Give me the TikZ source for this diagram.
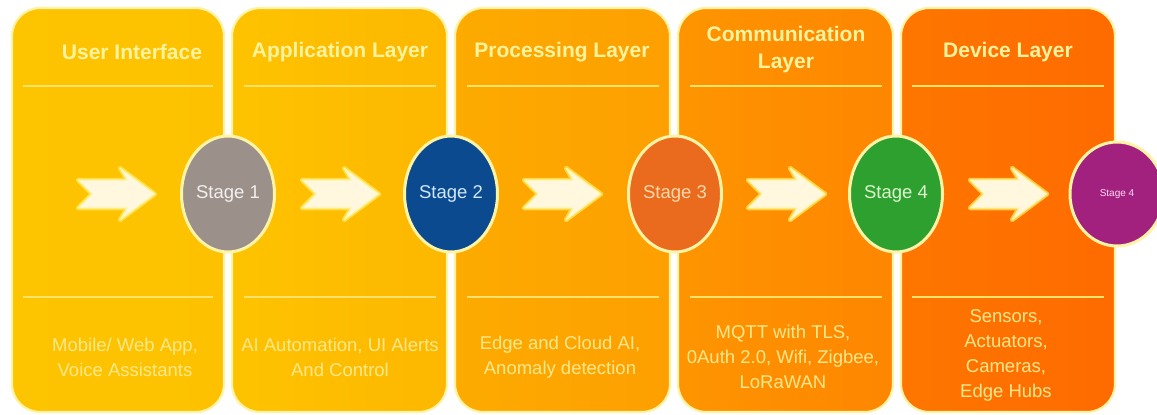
\documentclass[tikz,border=0pt]{standalone}
\usepackage{fontspec}
\setmainfont{Liberation Sans}
\usetikzlibrary{shapes.geometric}

% panel colours (left / right of each panel)
\definecolor{pa1}{HTML}{FDC400}\definecolor{pb1}{HTML}{FDC100}
\definecolor{pa2}{HTML}{FEC300}\definecolor{pb2}{HTML}{FDB700}
\definecolor{pa3}{HTML}{FDAB00}\definecolor{pb3}{HTML}{FD9F00}
\definecolor{pa4}{HTML}{FE9500}\definecolor{pb4}{HTML}{FE8600}
\definecolor{pa5}{HTML}{FE7600}\definecolor{pb5}{HTML}{FE6B00}
\definecolor{rimcol}{HTML}{FFF3A6}
\definecolor{rulecol}{HTML}{FFE26A}
\definecolor{titlecol}{HTML}{FFF39E}
\definecolor{bodycol}{HTML}{FFE88C}
\definecolor{chevfill}{HTML}{FFF7DE}
\definecolor{chevglow}{HTML}{FFEA55}
% stage colours
\definecolor{st1}{HTML}{9B918A}\definecolor{tx1}{HTML}{F2F0EE}
\definecolor{st2}{HTML}{0B4A8F}\definecolor{tx2}{HTML}{D2E8FF}
\definecolor{st3}{HTML}{EA6A1E}\definecolor{tx3}{HTML}{FFD9AC}
\definecolor{st4}{HTML}{2DA02F}\definecolor{tx4}{HTML}{DDF6D0}
\definecolor{st5}{HTML}{A3217E}\definecolor{tx5}{HTML}{FFDAF2}

\begin{document}
\begin{tikzpicture}[x=1pt,y=-1pt,
  panel/.style={rectangle, rounded corners=28pt, draw=rimcol, line width=2.2pt,
    minimum height=404pt, inner sep=0pt},
  hrule/.style={draw=rulecol, line width=1.8pt},
  title/.style={text=titlecol, font=\fontsize{21}{27}\selectfont\bfseries, align=center, inner sep=0pt},
  body/.style={text=bodycol, font=\fontsize{18.5}{25}\selectfont, align=center, inner sep=0pt},
  stage/.style={ellipse, draw=rimcol, line width=3pt, minimum width=93pt,
    minimum height=116pt, inner sep=0pt, font=\fontsize{18.5}{22}\selectfont},
  chev/.pic={
    \path[draw=chevglow, line width=4.5pt, line join=round, opacity=0.75]
      (0,-14) -- (49,-14) -- (42,-26) -- (77,0) -- (42,26) -- (49,14) -- (0,14) -- (14,0) -- cycle;
    \path[fill=chevfill, draw=rimcol, line width=1.2pt, line join=round]
      (0,-14) -- (49,-14) -- (42,-26) -- (77,0) -- (42,26) -- (49,14) -- (0,14) -- (14,0) -- cycle;
  }]
\useasboundingbox (0,0) rectangle (1157,415);
\fill[white] (0,0) rectangle (1157,415);

% layer panels
\node[panel, minimum width=212pt, left color=pa1, right color=pb1] (p1) at (118,210) {};
\node[panel, minimum width=215pt, left color=pa2, right color=pb2] (p2) at (339.5,210) {};
\node[panel, minimum width=215pt, left color=pa3, right color=pb3] (p3) at (562.5,210) {};
\node[panel, minimum width=215pt, left color=pa4, right color=pb4] (p4) at (785.5,210) {};
\node[panel, minimum width=214pt, left color=pa5, right color=pb5] (p5) at (1008,210) {};

% header and footer rules
\foreach \l/\r in {23/213, 244/436, 467/659, 690/882, 912/1104}{
  \draw[hrule] (\l,86) -- (\r,86);
  \draw[hrule] (\l,297) -- (\r,297);
}

% titles
\node[title] (t1) at (132,52) {User Interface};
\node[title] (t2) at (340,52) {Application Layer};
\node[title] (t3) at (562,52) {Processing Layer};
\node[title] (t4) at (786,50) {Communication\\Layer};
\node[title] (t5) at (1008,52) {Device Layer};

% descriptions
\node[body] (b1) at (125,357) {Mobile/ Web App,\\Voice Assistants};
\node[body] (b2) at (340,357) {AI Automation, UI Alerts\\And Control};
\node[body] (b3) at (560,357) {Edge and Cloud AI,\\Anomaly detection};
\node[body] (b4) at (783,357) {MQTT with TLS,\\0Auth 2.0, Wifi, Zigbee,\\LoRaWAN};
\node[body] (b5) at (1006,355) {Sensors,\\Actuators,\\Cameras,\\Edge Hubs};

% flow arrows
\pic (a1) at (78,194) {chev};
\pic (a2) at (302,194) {chev};
\pic (a3) at (524,194) {chev};
\pic (a4) at (748,194) {chev};
\pic (a5) at (970,194) {chev};

% stage markers
\node[stage, fill=st1, text=tx1] (s1) at (228,194) {Stage 1};
\node[stage, fill=st2, text=tx2] (s2) at (451,194) {Stage 2};
\node[stage, fill=st3, text=tx3] (s3) at (675,194) {Stage 3};
\node[stage, fill=st4, text=tx4] (s4) at (896,194) {Stage 4};
\node[stage, fill=st5, text=tx5, minimum width=94pt, minimum height=104pt,
  font=\fontsize{10}{12}\selectfont] (s5) at (1117,194) {Stage 4};
\end{tikzpicture}
\end{document}
